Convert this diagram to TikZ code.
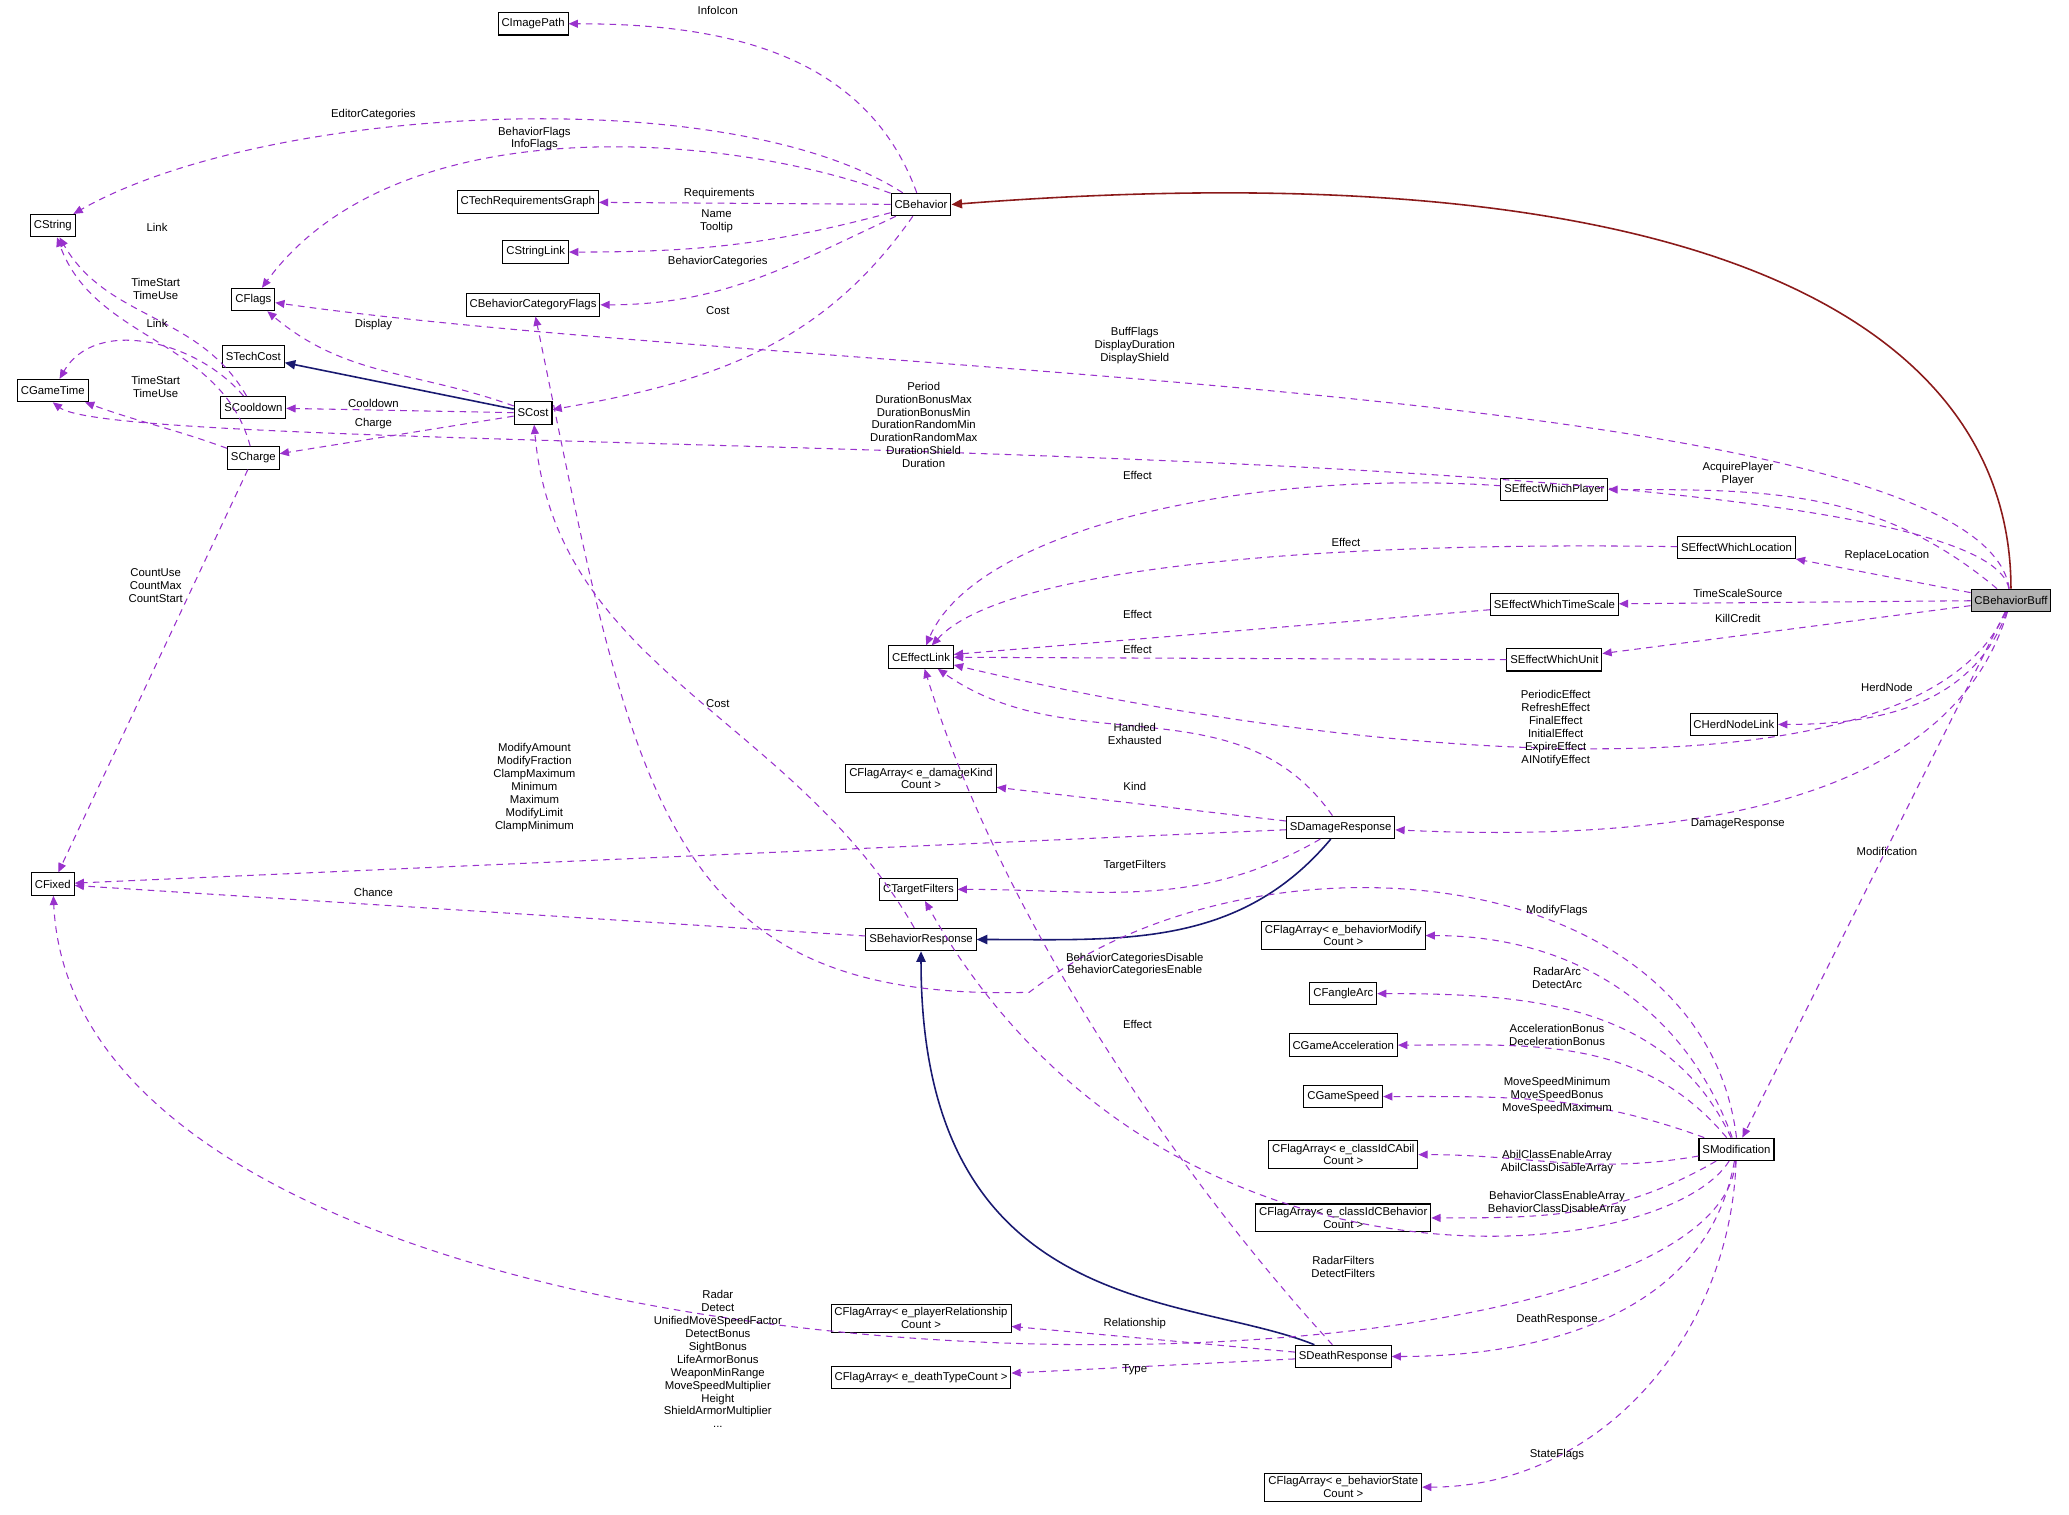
\documentclass[tikz,border=0pt]{standalone}
\usepackage{fontspec}
\setmainfont{Liberation Sans}
\usetikzlibrary{arrows.meta}
\definecolor{depcol}{RGB}{153,50,204}
\definecolor{inhcol}{RGB}{25,25,112}
\definecolor{basecol}{RGB}{139,26,26}
\tikzset{cls/.style={draw,line width=0.4pt,fill=white,inner sep=1.3pt,minimum height=8.5pt,align=center,font=\fontsize{4.3}{4.8}\selectfont},
  dep/.style={draw=depcol,line width=0.4pt,dash pattern=on 2.5pt off 2pt,-{Triangle[length=3.5pt,width=3pt,fill=depcol]}},
  inh/.style={draw=inhcol,line width=0.6pt,-{Triangle[length=4pt,width=3.5pt,fill=inhcol]}},
  basearr/.style={draw=basecol,line width=0.6pt,-{Triangle[length=4pt,width=3.5pt,fill=basecol]}},
  lbl/.style={align=center,inner sep=0pt,font=\fontsize{4.3}{4.9}\selectfont}}
\begin{document}
\begin{tikzpicture}[x=0.5pt,y=0.5pt]
\useasboundingbox (0,0) rectangle (1568,-1148);
% classes
\node[cls] (img) at (404,-18) {CImagePath};
\node[cls] (treq) at (400,-153) {CTechRequirementsGraph};
\node[cls] (slink) at (406,-191) {CStringLink};
\node[cls] (bcf) at (404,-231) {CBehaviorCategoryFlags};
\node[cls] (beh) at (698,-155) {CBehavior};
\node[cls] (cstr) at (40,-171) {CString};
\node[cls] (flags) at (192,-227) {CFlags};
\node[cls] (stech) at (192,-270) {STechCost};
\node[cls] (gtime) at (40,-296) {CGameTime};
\node[cls] (scool) at (192,-309) {SCooldown};
\node[cls] (scost) at (404,-313) {SCost};
\node[cls] (schg) at (192,-347) {SCharge};
\node[cls] (sewp) at (1178,-371) {SEffectWhichPlayer};
\node[cls] (sewl) at (1316,-415) {SEffectWhichLocation};
\node[cls,fill=black!30] (buff) at (1524,-455) {CBehaviorBuff};
\node[cls] (sewts) at (1178,-458) {SEffectWhichTimeScale};
\node[cls] (effl) at (698,-498) {CEffectLink};
\node[cls] (sewu) at (1178,-500) {SEffectWhichUnit};
\node[cls] (herd) at (1314,-549) {CHerdNodeLink};
\node[cls] (fadk) at (698,-590) {CFlagArray\textless{} e\_damageKind\\Count \textgreater};
\node[cls] (sdr) at (1016,-627) {SDamageResponse};
\node[cls] (cfix) at (40,-670) {CFixed};
\node[cls] (ctf) at (696,-674) {CTargetFilters};
\node[cls] (sbr) at (698,-712) {SBehaviorResponse};
\node[cls] (fabm) at (1018,-709) {CFlagArray\textless{} e\_behaviorModify\\Count \textgreater};
\node[cls] (fang) at (1018,-753) {CFangleArc};
\node[cls] (gacc) at (1018,-792) {CGameAcceleration};
\node[cls] (gspd) at (1018,-831) {CGameSpeed};
\node[cls] (smod) at (1316,-871) {SModification};
\node[cls] (fcab) at (1018,-875) {CFlagArray\textless{} e\_classIdCAbil\\Count \textgreater};
\node[cls] (fcbh) at (1018,-923) {CFlagArray\textless{} e\_classIdCBehavior\\Count \textgreater};
\node[cls] (fprl) at (698,-999) {CFlagArray\textless{} e\_playerRelationship\\Count \textgreater};
\node[cls] (sdth) at (1018,-1028) {SDeathResponse};
\node[cls] (fdth) at (698,-1044) {CFlagArray\textless{} e\_deathTypeCount \textgreater};
\node[cls] (fbst) at (1018,-1127) {CFlagArray\textless{} e\_behaviorState\\Count \textgreater};
\coordinate (bcmid) at (780,-752);
% inheritance
\draw[basearr] (buff.north) .. controls (1524,-250) and (1300,-110) .. (beh.east);
\draw[inh] (scost) -- (stech);
\draw[inh] (sdr) to[out=-130,in=0] (sbr);
\draw[inh] (sdth) .. controls (900,-980) and (698,-1000) .. (sbr);
% usage
\draw[dep] (beh) to[out=110,in=0] (img);
\draw[dep] (beh) .. controls (550,-60) and (200,-80) .. (cstr);
\draw[dep] (beh) .. controls (550,-100) and (300,-80) .. (flags);
\draw[dep] (beh) -- (treq);
\draw[dep] (beh) to[out=195,in=0] (slink);
\draw[dep] (beh) to[out=205,in=0] (bcf);
\draw[dep] (beh) to[out=235,in=10] (scost);
\draw[dep] (scost) to[out=160,in=-40] (flags);
\draw[dep] (scost) -- (scool);
\draw[dep] (scost) -- (schg);
\draw[dep] (scool) to[out=120,in=-60] (cstr);
\draw[dep] (scool) to[out=130,in=60] (gtime);
\draw[dep] (schg) to[out=105,in=-70] (cstr);
\draw[dep] (schg) to[out=160,in=-20] (gtime);
\draw[dep] (schg) -- (cfix);
\draw[dep] (buff) .. controls (1500,-290) and (600,-285) .. (flags);
\draw[dep] (buff) .. controls (1500,-320) and (100,-350) .. (gtime.south);
\draw[dep] (buff) to[out=140,in=0] (sewp);
\draw[dep] (sewp) .. controls (950,-355) and (740,-400) .. (effl);
\draw[dep] (buff) -- (sewl);
\draw[dep] (sewl) .. controls (1000,-410) and (760,-430) .. (effl);
\draw[dep] (buff) -- (sewts);
\draw[dep] (sewts) -- (effl);
\draw[dep] (buff) -- (sewu);
\draw[dep] (sewu) -- (effl);
\draw[dep] (buff) .. controls (1450,-620) and (1000,-570) .. (effl);
\draw[dep] (buff) to[out=-110,in=0] (herd);
\draw[dep] (buff) .. controls (1480,-600) and (1300,-640) .. (sdr);
\draw[dep] (buff) -- (smod);
\draw[dep] (sdr) to[out=125,in=-35] (effl);
\draw[dep] (sdr) -- (fadk);
\draw[dep] (sdr) -- (cfix);
\draw[dep] (sdr) to[out=-150,in=0] (ctf);
\draw[dep] (sbr) -- (cfix);
\draw[dep] (sbr) to[out=120,in=-85] (scost);
\draw[dep] (smod) to[out=110,in=0] (fabm);
\draw[dep] (smod) to[out=115,in=0] (fang);
\draw[dep] (smod) to[out=130,in=0] (gacc);
\draw[dep] (smod) to[out=160,in=0] (gspd);
\draw[dep] (smod) to[out=190,in=0] (fcab);
\draw[dep] (smod) to[out=210,in=0] (fcbh);
\draw[dep] (smod) .. controls (1260,-960) and (880,-1000) .. (ctf);
\draw[dep] (smod) to[out=-100,in=0] (sdth);
\draw[dep] (smod) .. controls (1300,-1090) and (60,-1090) .. (cfix);
\draw[dep] (smod) to[out=-92,in=0] (fbst);
\draw[dep] (smod.north) .. controls (1290,-650) and (950,-620) .. (bcmid) .. controls (500,-760) and (480,-600) .. (bcf);
\draw[dep] (sdth) .. controls (900,-900) and (760,-700) .. (effl);
\draw[dep] (sdth) -- (fprl);
\draw[dep] (sdth) -- (fdth);
% labels
\node[lbl] (l1) at (544,-8) {InfoIcon};
\node[lbl] (l2) at (283,-87) {EditorCategories};
\node[lbl] (l3) at (405,-105) {BehaviorFlags\\InfoFlags};
\node[lbl] (l4) at (545,-147) {Requirements};
\node[lbl] (l5) at (543,-168) {Name\\Tooltip};
\node[lbl] (l6) at (544,-198) {BehaviorCategories};
\node[lbl] (l7) at (544,-235) {Cost};
\node[lbl] (l8) at (283,-246) {Display};
\node[lbl] (l9) at (283,-306) {Cooldown};
\node[lbl] (l10) at (283,-321) {Charge};
\node[lbl] (l11) at (119,-172) {Link};
\node[lbl] (l12) at (118,-219) {TimeStart\\TimeUse};
\node[lbl] (l13) at (119,-245) {Link};
\node[lbl] (l14) at (118,-293) {TimeStart\\TimeUse};
\node[lbl] (l15) at (118,-444) {CountUse\\CountMax\\CountStart};
\node[lbl] (l16) at (860,-262) {BuffFlags\\DisplayDuration\\DisplayShield};
\node[lbl] (l17) at (700,-322) {Period\\DurationBonusMax\\DurationBonusMin\\DurationRandomMin\\DurationRandomMax\\DurationShield\\Duration};
\node[lbl] (l18) at (1317,-359) {AcquirePlayer\\Player};
\node[lbl] (l19) at (862,-360) {Effect};
\node[lbl] (l20) at (1430,-421) {ReplaceLocation};
\node[lbl] (l21) at (1020,-411) {Effect};
\node[lbl] (l22) at (1317,-450) {TimeScaleSource};
\node[lbl] (l23) at (862,-466) {Effect};
\node[lbl] (l24) at (1317,-469) {KillCredit};
\node[lbl] (l25) at (862,-492) {Effect};
\node[lbl] (l26) at (1179,-552) {PeriodicEffect\\RefreshEffect\\FinalEffect\\InitialEffect\\ExpireEffect\\AINotifyEffect};
\node[lbl] (l27) at (1430,-521) {HerdNode};
\node[lbl] (l28) at (1317,-624) {DamageResponse};
\node[lbl] (l29) at (1430,-645) {Modification};
\node[lbl] (l30) at (860,-556) {Handled\\Exhausted};
\node[lbl] (l31) at (860,-596) {Kind};
\node[lbl] (l32) at (405,-597) {ModifyAmount\\ModifyFraction\\ClampMaximum\\Minimum\\Maximum\\ModifyLimit\\ClampMinimum};
\node[lbl] (l33) at (283,-676) {Chance};
\node[lbl] (l34) at (544,-533) {Cost};
\node[lbl] (l35) at (860,-656) {TargetFilters};
\node[lbl] (l36) at (1180,-690) {ModifyFlags};
\node[lbl] (l37) at (1180,-741) {RadarArc\\DetectArc};
\node[lbl] (l38) at (1180,-784) {AccelerationBonus\\DecelerationBonus};
\node[lbl] (l39) at (1180,-830) {MoveSpeedMinimum\\MoveSpeedBonus\\MoveSpeedMaximum};
\node[lbl] (l40) at (1180,-881) {AbilClassEnableArray\\AbilClassDisableArray};
\node[lbl] (l41) at (1180,-912) {BehaviorClassEnableArray\\BehaviorClassDisableArray};
\node[lbl] (l42) at (1018,-960) {RadarFilters\\DetectFilters};
\node[lbl] (l43) at (1180,-1000) {DeathResponse};
\node[lbl] (l44) at (544,-1030) {Radar\\Detect\\UnifiedMoveSpeedFactor\\DetectBonus\\SightBonus\\LifeArmorBonus\\WeaponMinRange\\MoveSpeedMultiplier\\Height\\ShieldArmorMultiplier\\...};
\node[lbl] (l45) at (1180,-1102) {StateFlags};
\node[lbl] (l46) at (860,-731) {BehaviorCategoriesDisable\\BehaviorCategoriesEnable};
\node[lbl] (l47) at (862,-776) {Effect};
\node[lbl] (l48) at (860,-1003) {Relationship};
\node[lbl] (l49) at (860,-1038) {Type};
\end{tikzpicture}
\end{document}
